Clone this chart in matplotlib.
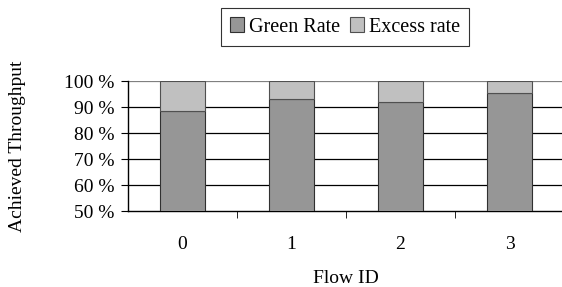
import matplotlib
matplotlib.use("Agg")
import matplotlib.pyplot as plt
import numpy as np

flows = ["0", "1", "2", "3"]
green_rate = [88.6, 93.0, 91.8, 95.4]
excess_rate = [100 - g for g in green_rate]
yticks = [50, 60, 70, 80, 90, 100]

plt.rcParams['font.family'] = ['Liberation Serif', 'DejaVu Serif']

fig = plt.figure(figsize=(5.62, 2.87), dpi=100)
ax = fig.add_axes([128 / 562, 1 - 211 / 287, 436 / 562, 130 / 287])

x = np.arange(len(flows))
w = 0.41
ax.bar(x, green_rate, w, color="#969696", edgecolor="#303030", linewidth=0.8,
       label="Green Rate", zorder=3)
ax.bar(x, excess_rate, w, bottom=green_rate, color="#c0c0c0", edgecolor="#505050",
       linewidth=0.8, label="Excess rate", zorder=3)

ax.set_ylim(50, 100)
ax.set_xlim(-0.5, 3.5)
ax.set_yticks(yticks)
ax.set_yticklabels([f"{v} %" for v in yticks], fontsize=14)
for v in yticks[1:]:
    ax.axhline(v, color="black" if v < 100 else "#808080", linewidth=0.9, zorder=1)

ax.set_xticks(x)
ax.set_xticklabels(flows, fontsize=14)
ax.set_xticks([0.5, 1.5, 2.5], minor=True)
ax.tick_params(axis='x', which='major', length=0, pad=18)
ax.tick_params(axis='x', which='minor', length=5, direction='out')
ax.tick_params(axis='y', length=5, direction='out', pad=5)

for s in ["top", "right"]:
    ax.spines[s].set_visible(False)
ax.spines["left"].set_linewidth(1.0)
ax.spines["bottom"].set_linewidth(1.0)

ax.set_xlabel("Flow ID", fontsize=14, labelpad=12)
ax.set_ylabel("Achieved Throughput", fontsize=14, labelpad=27)

leg = fig.legend(loc="center", bbox_to_anchor=(345 / 562, 1 - 27 / 287), ncol=2,
                 fontsize=14.5, frameon=True, fancybox=False, edgecolor="black",
                 handlelength=0.7, handleheight=0.7, handletextpad=0.25,
                 columnspacing=0.5, borderpad=0.45)
leg.get_frame().set_linewidth(0.8)

fig.savefig("out.png", dpi=100)
